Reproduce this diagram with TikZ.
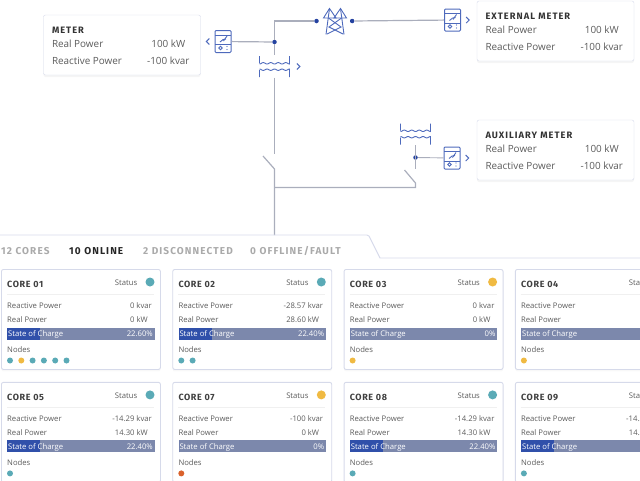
\documentclass[tikz,border=0pt]{standalone}
\usepackage{fontspec}
\usepackage{tikz}
\usetikzlibrary{
    positioning,
    shadows
}
\setmainfont{Open Sans}
\newfontfamily\headfont[LetterSpace=7]{Fira Sans}
\newfontfamily\widefont[LetterSpace=11]{Fira Sans}
\definecolor{IconBlue}{RGB}{78,106,188}
\definecolor{DotBlue}{RGB}{36,66,160}
\definecolor{WireGrey}{RGB}{170,174,188}
\definecolor{EdgeGrey}{RGB}{214,218,234}
\definecolor{BarGrey}{RGB}{124,136,172}
\definecolor{BarBlue}{RGB}{48,80,170}
\definecolor{SoftTeal}{RGB}{90,170,182}
\definecolor{SoftYellow}{RGB}{240,186,66}
\definecolor{SoftOrange}{RGB}{218,98,44}
\definecolor{InkGrey}{RGB}{92,92,92}
\definecolor{TabGrey}{RGB}{170,170,170}

\newcommand{\metercard}[3]{
    \node[metercardbox] (#1) at (#2) {};
    \begin{scope}[shift={(#1.north west)}]
        \node[metertitle] (#1title) at (8.5,16) {#3};
        \node[meterlabel] (#1real) at (8.5,30.5) {Real Power};
        \node[meterlabel] (#1reactive) at (8.5,47) {Reactive Power};
        \node[metervalue] (#1kw) at (125,30.5) {100 kW};
        \node[metervalue] (#1kvar) at (125,47) {-100 kvar};
    \end{scope}
}
\newcommand{\corecard}[8]{
    \node[corebox, #2] (core#1) {};
    \begin{scope}[shift={(core#1.north west)}]
        \node[cardtitle] (core#1title) at (6,16) {CORE #1};
        \node[smallright] (core#1status) at (136.5,13.5) {Status};
        \node[statusdot, fill=#3] (core#1dot) at (149,13) {};
        \draw[rulethin] (6,25) -- (153,25);
        \node[smallleft] (core#1reactive) at (6,37) {Reactive Power};
        \node[smallright] (core#1kvar) at (151,37) {#4};
        \node[smallleft] (core#1real) at (6,51) {Real Power};
        \node[smallright] (core#1kw) at (147,51) {#5};
        \node[chargebar] (core#1bar) at (6,64.5) {};
        \node[chargefill, minimum width=#7] (core#1fill) at (6,64.5) {};
        \node[smallleft, text=white] (core#1soc) at (7,65) {State of Charge};
        \node[smallright, text=white] (core#1pct) at (152,65) {#6};
        \node[smallleft] (core#1nodes) at (6,80.5) {Nodes};
        \foreach \c [count=\i] in {#8}
            \node[nodedot, fill=\c] (core#1n\i) at ({9+(\i-1)*11.3},91.5) {};
    \end{scope}
}

\begin{document}
\begin{tikzpicture}[
    x=1pt, y=-1pt,
    metercardbox/.style={rectangle, draw=EdgeGrey, fill=white, rounded corners=2pt, minimum width=157pt, minimum height=60pt, inner sep=0pt, drop shadow={opacity=0.08, shadow xshift=0pt, shadow yshift=-2pt}},
    corebox/.style={rectangle, draw=EdgeGrey, line width=0.9pt, fill=white, rounded corners=2pt, minimum width=159pt, minimum height=100pt, inner sep=0pt, anchor=north west, drop shadow={opacity=0.06, shadow xshift=0pt, shadow yshift=-2pt}},
    cardtitle/.style={anchor=mid west, inner sep=0pt, font=\headfont\bfseries\fontsize{9}{11}\selectfont, text=black!75},
    metertitle/.style={anchor=mid west, inner sep=0pt, font=\widefont\bfseries\fontsize{9.3}{11}\selectfont, text=black!80},
    meterlabel/.style={anchor=mid west, inner sep=0pt, font=\fontsize{9.9}{12}\selectfont, text=InkGrey},
    metervalue/.style={anchor=mid, inner sep=0pt, font=\fontsize{9.9}{12}\selectfont, text=InkGrey},
    smallleft/.style={anchor=mid west, inner sep=0pt, font=\fontsize{7.7}{10}\selectfont, text=InkGrey},
    smallright/.style={anchor=mid east, inner sep=0pt, font=\fontsize{7.7}{10}\selectfont, text=InkGrey},
    tablabel/.style={anchor=mid west, inner sep=0pt, font=\widefont\bfseries\fontsize{10}{12}\selectfont, text=TabGrey},
    statusdot/.style={circle, minimum size=9pt, inner sep=0pt},
    nodedot/.style={circle, minimum size=6pt, inner sep=0pt},
    chargebar/.style={rectangle, fill=BarGrey, minimum width=147.5pt, minimum height=12pt, inner sep=0pt, anchor=west},
    chargefill/.style={rectangle, fill=BarBlue, minimum height=12pt, inner sep=0pt, anchor=west},
    rulethin/.style={draw=black!6, line width=0.6pt},
    wire/.style={draw=WireGrey, line width=1.2pt},
    junction/.style={circle, fill=DotBlue, minimum size=4.5pt, inner sep=0pt},
    metericon/.style={rectangle, draw=IconBlue, line width=1pt, rounded corners=1pt, fill=white, minimum width=16pt, minimum height=22pt, inner sep=0pt,
        path picture={
            \begin{scope}[shift={(path picture bounding box.center)}, draw=IconBlue, line width=0.9pt]
                \draw (-8,-6.5) -- (8,-6.5);
                \draw (-8,3) -- (8,3);
                \draw (-3,0.5) .. controls (-1,-2) and (1,-2.5) .. (3,-2.5);
                \draw (0.5,-0.5) -- (4,-5.5);
                \draw (-2.5,6.5) circle (1.8);
                \fill[IconBlue] (4,5) circle (0.7) (4,8) circle (0.7);
            \end{scope}
        }},
    towericon/.style={rectangle, minimum width=26pt, minimum height=28pt, inner sep=0pt,
        path picture={
            \begin{scope}[shift={(path picture bounding box.center)}, draw=IconBlue, line width=0.9pt]
                \draw (-5.5,-12.5) -- (-11.5,-3) -- (1,-3) -- cycle;
                \draw (5.5,-12.5) -- (11.5,-3) -- (-1,-3) -- cycle;
                \draw (-5.5,-12.5) -- (-9,13.5);
                \draw (5.5,-12.5) -- (9,13.5);
                \draw (-6.5,-3) -- (6,6) -- (-8,13);
                \draw (6.5,-3) -- (-6,6) -- (8,13);
            \end{scope}
        }},
    xfmr/.style={rectangle, minimum width=32pt, minimum height=22pt, inner sep=0pt,
        path picture={
            \begin{scope}[shift={(path picture bounding box.center)}, draw=IconBlue, line width=0.9pt]
                \draw (-15,-10.5) -- (-15,-3.5) plot[domain=-15:15, samples=41] (\x,{-3.2+0.7*cos(\x*48)}) -- (15,-10.5);
                \draw (-15,10.5) -- (-15,3.5) plot[domain=-15:15, samples=41] (\x,{3.2-0.7*cos(\x*48)}) -- (15,10.5);
            \end{scope}
        }},
    chevright/.style={rectangle, minimum width=6pt, minimum height=8pt, inner sep=0pt,
        path picture={
            \draw[IconBlue, line width=1pt, shift={(path picture bounding box.center)}] (-1.5,-3) -- (1.5,0) -- (-1.5,3);
        }},
    chevleft/.style={rectangle, minimum width=6pt, minimum height=8pt, inner sep=0pt,
        path picture={
            \draw[IconBlue, line width=1pt, shift={(path picture bounding box.center)}] (1.5,-3) -- (-1.5,0) -- (1.5,3);
        }}
]
\useasboundingbox (0,0) rectangle (640,480);
\clip (0,0) rectangle (640,480);

\metercard{meter}{122,45}{METER}
\metercard{external}{555.5,31}{EXTERNAL METER}
\metercard{auxiliary}{555.5,150}{AUXILIARY METER}

\node[junction] (busdot) at (274.5,42) {};
\node[junction] (towerin) at (316.5,21) {};
\node[towericon] (tower) at (335,21) {};
\node[junction, right=1.5pt of tower] (towerout) {};
\node[metericon] (metericonA) at (223,41.5) {};
\node[metericon] (metericonB) at (452.5,20) {};
\node[metericon] (metericonC) at (452,158) {};
\node[chevleft, left=3.5pt of metericonA] (chevA) {};
\node[chevright, right=3.5pt of metericonB] (chevB) {};
\node[chevright, right=3.5pt of metericonC] (chevC) {};
\node[xfmr] (xfmrmain) at (274.5,66.5) {};
\node[chevright, right=4.5pt of xfmrmain] (chevD) {};
\node[xfmr] (xfmraux) at (415.5,134) {};
\node[junction] (auxdot) at (415.5,157.5) {};

\coordinate (mainopen) at (274.5,154);
\coordinate (mainblade) at (263,156);
\coordinate (mainhinge) at (274.5,169);
\coordinate (tabtop) at (274.5,235);
\coordinate (tiemain) at (274.5,187.5);
\coordinate (tieaux) at (415.5,187.5);
\coordinate (auxhinge) at (415.5,183);
\coordinate (auxblade) at (404.5,170);
\coordinate (auxopen) at (415.5,169);

\draw[wire] (busdot) |- (towerin);
\draw[wire] (towerout) -- (metericonB);
\draw[wire] (busdot) -- (metericonA);
\draw[wire] (busdot) -- (xfmrmain.north);
\draw[wire] (xfmrmain.south) -- (mainopen);
\draw[wire] (mainblade) -- (mainhinge) -- (tabtop);
\draw[wire] (tiemain) -- (tieaux) -- (auxhinge) -- (auxblade);
\draw[wire] (xfmraux.south) -- (auxopen);
\draw[wire, line width=0.9pt] (auxdot) -- (metericonC);

\draw[EdgeGrey, line width=0.9pt] (0,235) -- (367,235) -- (369,236) -- (380,258) -- (640,258);
\node[tablabel] (tabcores) at (1,252) {12 CORES};
\node[tablabel, text=black!85] (tabonline) at (69,252) {10 ONLINE};
\node[tablabel] (tabdisc) at (143,252) {2 DISCONNECTED};
\node[tablabel] (tabfault) at (250,252) {0 OFFLINE/FAULT};

\corecard{01}{at={(1,269)}}{SoftTeal}{0 kvar}{0 kW}{22.60\%}{33pt}{SoftTeal,SoftYellow,SoftTeal,SoftTeal,SoftTeal,SoftTeal}
\corecard{02}{right=11.4pt of core01}{SoftTeal}{-28.57 kvar}{28.60 kW}{22.40\%}{33pt}{SoftTeal,SoftTeal}
\corecard{03}{right=11.4pt of core02}{SoftYellow}{0 kvar}{0 kW}{0\%}{0pt}{SoftYellow}
\corecard{04}{right=11.4pt of core03}{SoftYellow}{0 kvar}{0 kW}{0\%}{0pt}{SoftYellow}
\corecard{05}{below=12pt of core01}{SoftTeal}{-14.29 kvar}{14.30 kW}{22.40\%}{33pt}{SoftTeal}
\corecard{07}{right=11.4pt of core05}{SoftYellow}{-100 kvar}{0 kW}{0\%}{0pt}{SoftOrange}
\corecard{08}{right=11.4pt of core07}{SoftTeal}{-14.29 kvar}{14.30 kW}{22.40\%}{33pt}{SoftTeal}
\corecard{09}{right=11.4pt of core08}{SoftTeal}{-14.29 kvar}{14.30 kW}{22.40\%}{33pt}{SoftTeal}
\end{tikzpicture}
\end{document}
